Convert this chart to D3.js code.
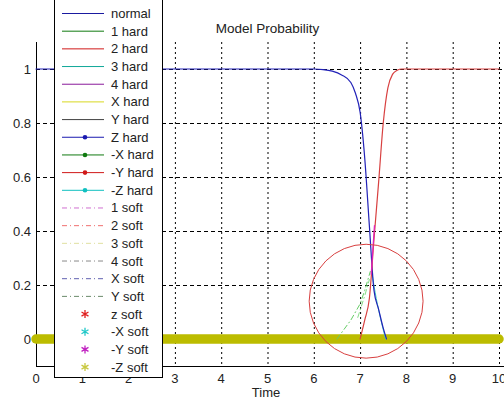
<!DOCTYPE html>
<html><head><meta charset="utf-8">
<script src="https://cdn.jsdelivr.net/npm/d3@7"></script>
<style>
html,body{margin:0;padding:0;background:#fff;}
svg{display:block;font-family:"Liberation Sans",Arial,sans-serif;}
</style></head>
<body>
<svg id="chart" width="504" height="399"></svg>
<script>
// ---- data ----
const xTicks = [0,1,2,3,4,5,6,7,8,9,10];
const yTicks = [0,0.2,0.4,0.6,0.8,1];
const yTickLabels = ["0","0.2","0.4","0.6","0.8","1"];

const normalT = [0, 6, 6.2, 6.4, 6.6, 6.8, 6.9, 7.0, 7.1, 7.2, 7.3, 7.4, 7.5, 7.57];
const normalV = [1, 1, 0.998, 0.992, 0.978, 0.95, 0.91, 0.84, 0.67, 0.42, 0.18, 0.11, 0.04, 0];

const hard2T = [7.0, 7.1, 7.2, 7.3, 7.4, 7.5, 7.6, 7.7, 7.8, 7.9, 10];
const hard2V = [0, 0.07, 0.15, 0.37, 0.58, 0.8, 0.93, 0.98, 0.995, 1, 1];

const hard4T = [7.24, 7.31];
const hard4V = [0.24, 0.42];

const softYT = [6.5, 6.8, 7.0, 7.1, 7.22];
const softYV = [0, 0.07, 0.13, 0.18, 0.25];

const softY2T = [6.95, 7.1, 7.2];
const softY2V = [0.08, 0.16, 0.22];

const hardZnT = [7.25, 7.35, 7.45, 7.55];
const hardZnV = [0.25, 0.15, 0.07, 0.0];

const softZnT = [0, 10];
const softZnV = [0, 0];

const circleT = 7.13, circleV = 0.14, circleRT = 1.23;

const legendNames = ["normal","1 hard","2 hard","3 hard","4 hard","X hard","Y hard","Z hard","-X hard","-Y hard","-Z hard",
  "1 soft","2 soft","3 soft","4 soft","X soft","Y soft","z soft","-X soft","-Y soft","-Z soft"];
const legendColors = ["#1a1aa0","#107a10","#d01818","#10a898","#8a1a9a","#d8d820","#404040","#1a1ab0","#107a10","#d01818","#10c0c0",
  "#d070d0","#f07070","#e0e0a0","#8a8a8a","#6060b0","#6a8a6a","#e02020","#20c8c8","#c020c0","#c8c840"];
const legendKinds = ["line","line","line","line","line","line","line","dot","dot","dot","dot",
  "dash","dash","dash","dash","dash","dash","star","star","star","star"];

// ---- layout ----
const svg = d3.select("#chart");
const x = d3.scaleLinear().domain([0,10]).range([36,499]);
const y = d3.scaleLinear().domain([-0.1,1.1]).range([366,42]);

// grid
svg.append("g").selectAll("line").data(xTicks.slice(1)).join("line")
  .attr("x1", d=>x(d)+0.5).attr("x2", d=>x(d)+0.5).attr("y1", y(1.1)).attr("y2", y(-0.1))
  .attr("stroke","#000").attr("stroke-width",1).attr("stroke-dasharray","2,3");
svg.append("g").selectAll("line").data(yTicks.slice(1)).join("line")
  .attr("x1", x(0)).attr("x2", 504).attr("y1", d=>Math.round(y(d))+0.5).attr("y2", d=>Math.round(y(d))+0.5)
  .attr("stroke","#000").attr("stroke-width",1).attr("stroke-dasharray","4,3");

// axes lines
svg.append("line").attr("x1",x(0)+0.5).attr("x2",x(0)+0.5).attr("y1",y(1.1)).attr("y2",y(-0.1)+0.5).attr("stroke","#000");
svg.append("line").attr("x1",x(0)).attr("x2",504).attr("y1",y(-0.1)+0.5).attr("y2",y(-0.1)+0.5).attr("stroke","#000");

// tick labels
svg.append("g").selectAll("text").data(xTicks).join("text")
  .attr("x", d=>x(d)).attr("y", 383).attr("text-anchor","middle")
  .attr("font-size",13).attr("fill","#222").text(d=>d);
svg.append("g").selectAll("text").data(yTicks).join("text")
  .attr("x", 31).attr("y", d=>y(d)+4.5).attr("text-anchor","end")
  .attr("font-size",13).attr("fill","#222").text((d,i)=>yTickLabels[i]);

// titles
svg.append("text").attr("x",(x(0)+x(10))/2).attr("y",33).attr("text-anchor","middle")
  .attr("font-size",13.5).attr("fill","#222").text("Model Probability");
svg.append("text").attr("x",266).attr("y",397).attr("text-anchor","middle")
  .attr("font-size",13).attr("fill","#222").text("Time");

// series
function series(T, V, color, width, dash, curve){
  const line = d3.line().x((d,i)=>x(T[i])).y(d=>y(d)).curve(curve||d3.curveMonotoneX);
  svg.append("path").datum(V).attr("d", line).attr("fill","none")
    .attr("stroke",color).attr("stroke-width",width).attr("stroke-dasharray",dash||null)
    .attr("stroke-linecap","round");
}
series(softZnT, softZnV, "#bcbc00", 9.5, null, d3.curveLinear);
series(softYT, softYV, "#66cc66", 1, "5,3,1,3", d3.curveLinear);
series(softY2T, softY2V, "#88dd88", 1, "5,3,1,3", d3.curveLinear);
series(hardZnT, hardZnV, "#40d0c0", 1);
series(normalT, normalV, "#2222b8", 1.2);
series(hard2T, hard2V, "#d84040", 1.2);
series(hard4T, hard4V, "#e020c0", 1.2, null, d3.curveLinear);

// annotation circle
svg.append("circle").attr("cx", x(circleT)).attr("cy", y(circleV))
  .attr("r", x(circleT+circleRT)-x(circleT))
  .attr("fill","none").attr("stroke","#d84040").attr("stroke-width",1);

// legend
const lg = svg.append("g");
lg.append("rect").attr("x",54.5).attr("y",-5).attr("width",108).attr("height",382.5)
  .attr("fill","#fff").attr("stroke","#000").attr("stroke-width",1);
const rowY = i => 13.5 + i*17.68;
legendNames.forEach((name,i)=>{
  const yy = rowY(i), c = legendColors[i], k = legendKinds[i];
  if(k!=="star"){
    lg.append("line").attr("x1",62).attr("x2",104).attr("y1",yy).attr("y2",yy)
      .attr("stroke",c).attr("stroke-width",1)
      .attr("stroke-dasharray", k==="dash" ? "5,3,1,3" : null);
  }
  if(k==="dot"){
    lg.append("circle").attr("cx",85).attr("cy",yy).attr("r",2.3).attr("fill",c);
  }
  if(k==="star"){
    lg.append("path").attr("d", d3.symbol(d3.symbolAsterisk, 45)())
      .attr("transform",`translate(85,${yy})`).attr("stroke",c).attr("stroke-width",1.3).attr("fill","none");
  }
  lg.append("text").attr("x",111).attr("y",yy+4.5).attr("font-size",13).attr("fill","#222").text(name);
});
</script>
</body></html>
